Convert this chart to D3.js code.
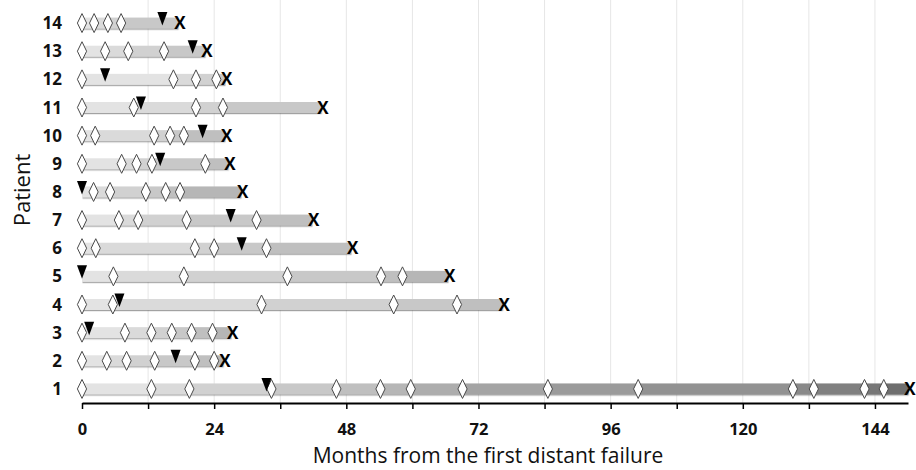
<!DOCTYPE html>
<html>
<head>
<meta charset="utf-8" />
<title>Swimmer plot</title>
<script src="https://d3js.org/d3.v7.min.js"></script>
<style>
  body { margin: 0; background: #fff; }
  svg text { font-family: "Open Sans", "DejaVu Sans", sans-serif; }
</style>
</head>
<body>
<svg id="chart" width="916" height="470"></svg>
<script>
// data (months from first distant failure)
const patients = ["1", "2", "3", "4", "5", "6", "7", "8", "9", "10", "11", "12", "13", "14"];
const endMonths = [150, 25.6, 27, 76.3, 66.4, 48.8, 41.7, 28.8, 26.5, 25.9, 43.4, 25.9, 22.3, 17.4];
const triangleMonths = [33.5, 17, 1.3, 6.8, 0, 29, 27, 0, 14.2, 21.9, 10.7, 4.2, 20.1, 14.6];
const diamondMonths = [
  [0, 12.6, 19.5, 34.4, 46.2, 54.2, 59.7, 69.1, 84.6, 101, 129.1, 132.9, 142.1, 145.6],
  [0, 4.5, 8.1, 13.2, 20.5, 24],
  [0, 7.8, 12.6, 16.3, 19.9, 23.7],
  [0, 5.6, 32.6, 56.6, 68.1],
  [5.7, 18.5, 37.3, 54.3, 58.2],
  [0, 2.5, 20.5, 24, 33.5],
  [0, 6.7, 10.2, 19, 31.7],
  [2.1, 5.1, 11.6, 15.2, 17.8],
  [0, 7.2, 9.9, 12.7, 22.4],
  [0, 2.4, 13.1, 16, 18.5],
  [0, 9.4, 20.7, 25.6],
  [0, 16.6, 20.7, 24.4],
  [0, 4.2, 8.4, 14.9],
  [0, 2.2, 4.7, 7.1]
];
const xTicks = d3.range(0, 151, 12);

const svg = d3.select("#chart");
const margin = { top: 9, left: 82, right: 8, bottom: 67 };
const width = +svg.attr("width");
const height = +svg.attr("height");

const x = d3.scaleLinear().domain([0, 150]).range([margin.left, width - margin.right]);
const y = d3.scaleBand()
  .domain(patients.slice().reverse())
  .range([margin.top, height - margin.bottom])
  .padding(0);
const cy = (p) => y(p) + y.bandwidth() / 2;

// segments get darker after each diamond
const shade = (i) => d3.rgb(227 - i * 9, 227 - i * 9, 227 - i * 9).toString();

const defs = svg.append("defs");
defs.append("filter").attr("id", "shadow")
  .attr("x", "-5%").attr("y", "-50%").attr("width", "110%").attr("height", "200%")
  .append("feDropShadow")
  .attr("dx", 0.5).attr("dy", 1.2).attr("stdDeviation", 0.6)
  .attr("flood-color", "#555").attr("flood-opacity", 0.55);

// grid
svg.append("g")
  .selectAll("line")
  .data(xTicks.slice(1))
  .enter().append("line")
  .attr("x1", (d) => x(d)).attr("x2", (d) => x(d))
  .attr("y1", 0).attr("y2", height - margin.bottom)
  .attr("stroke", "#e6e6e6").attr("stroke-width", 1);

// bars
const rows = patients.map((p, i) => {
  const ds = diamondMonths[i].filter((d) => d > 0).sort((a, b) => a - b);
  const bounds = [0].concat(ds, [endMonths[i]]);
  const segs = [];
  for (let k = 0; k < bounds.length - 1; k++) {
    segs.push({ p: p, x0: bounds[k], x1: bounds[k + 1], k: k });
  }
  return { p: p, segs: segs };
});

const barH = 11;
const bars = svg.append("g").attr("filter", "url(#shadow)");
bars.selectAll("g")
  .data(rows)
  .enter().append("g")
  .selectAll("rect")
  .data((r) => r.segs)
  .enter().append("rect")
  .attr("x", (d) => x(d.x0))
  .attr("width", (d) => x(d.x1) - x(d.x0) + 0.3)
  .attr("y", (d) => cy(d.p) - barH / 2)
  .attr("height", barH)
  .attr("fill", (d) => shade(d.k));

// diamonds
const diamondPts = [];
patients.forEach((p, i) => diamondMonths[i].forEach((m) => diamondPts.push({ p: p, m: m })));
const dw = 4.6, dh = 9.5;
svg.append("g")
  .selectAll("path")
  .data(diamondPts)
  .enter().append("path")
  .attr("d", (d) => {
    const px = x(d.m), py = cy(d.p);
    return "M" + px + "," + (py - dh) + "L" + (px + dw) + "," + py +
      "L" + px + "," + (py + dh) + "L" + (px - dw) + "," + py + "Z";
  })
  .attr("fill", "#fff")
  .attr("stroke", "#4a4a4a")
  .attr("stroke-width", 1);

// triangles
svg.append("g")
  .selectAll("path")
  .data(patients.map((p, i) => ({ p: p, m: triangleMonths[i] })))
  .enter().append("path")
  .attr("d", (d) => {
    const px = x(d.m), py = cy(d.p);
    return "M" + (px - 5) + "," + (py - 11) + "L" + (px + 5) + "," + (py - 11) +
      "L" + px + "," + (py + 2.5) + "Z";
  })
  .attr("fill", "#000");

// X end markers
svg.append("g")
  .selectAll("text")
  .data(patients.map((p, i) => ({ p: p, m: endMonths[i] })))
  .enter().append("text")
  .attr("x", (d) => x(d.m) + 2)
  .attr("y", (d) => cy(d.p))
  .attr("dy", "0.36em")
  .attr("text-anchor", "middle")
  .attr("font-size", 17)
  .attr("font-weight", 700)
  .attr("fill", "#000")
  .text("X");

// axes
const xAxis = d3.axisBottom(x)
  .tickValues(xTicks)
  .tickSize(6)
  .tickSizeOuter(0)
  .tickFormat((d) => (d % 24 === 0 ? d : ""));
const gx = svg.append("g")
  .attr("transform", "translate(0," + (height - margin.bottom) + ")")
  .call(xAxis);
gx.select(".domain").attr("stroke", "#000").attr("stroke-width", 2);
gx.selectAll(".tick line").attr("stroke", "#000").attr("stroke-width", 1.5);
gx.selectAll(".tick text")
  .attr("y", 20)
  .attr("font-size", 16.5)
  .attr("font-weight", 700)
  .attr("fill", "#111");

svg.append("g")
  .selectAll("text")
  .data(patients)
  .enter().append("text")
  .attr("x", 62)
  .attr("y", (d) => cy(d))
  .attr("dy", "0.36em")
  .attr("text-anchor", "end")
  .attr("font-size", 17)
  .attr("font-weight", 700)
  .attr("fill", "#111")
  .text((d) => d);

svg.append("text")
  .attr("x", 488)
  .attr("y", 463)
  .attr("text-anchor", "middle")
  .attr("font-size", 21)
  .attr("fill", "#111")
  .text("Months from the first distant failure");

svg.append("text")
  .attr("transform", "translate(30," + 190 + ") rotate(-90)")
  .attr("text-anchor", "middle")
  .attr("font-size", 22)
  .attr("fill", "#111")
  .text("Patient");
</script>
</body>
</html>
